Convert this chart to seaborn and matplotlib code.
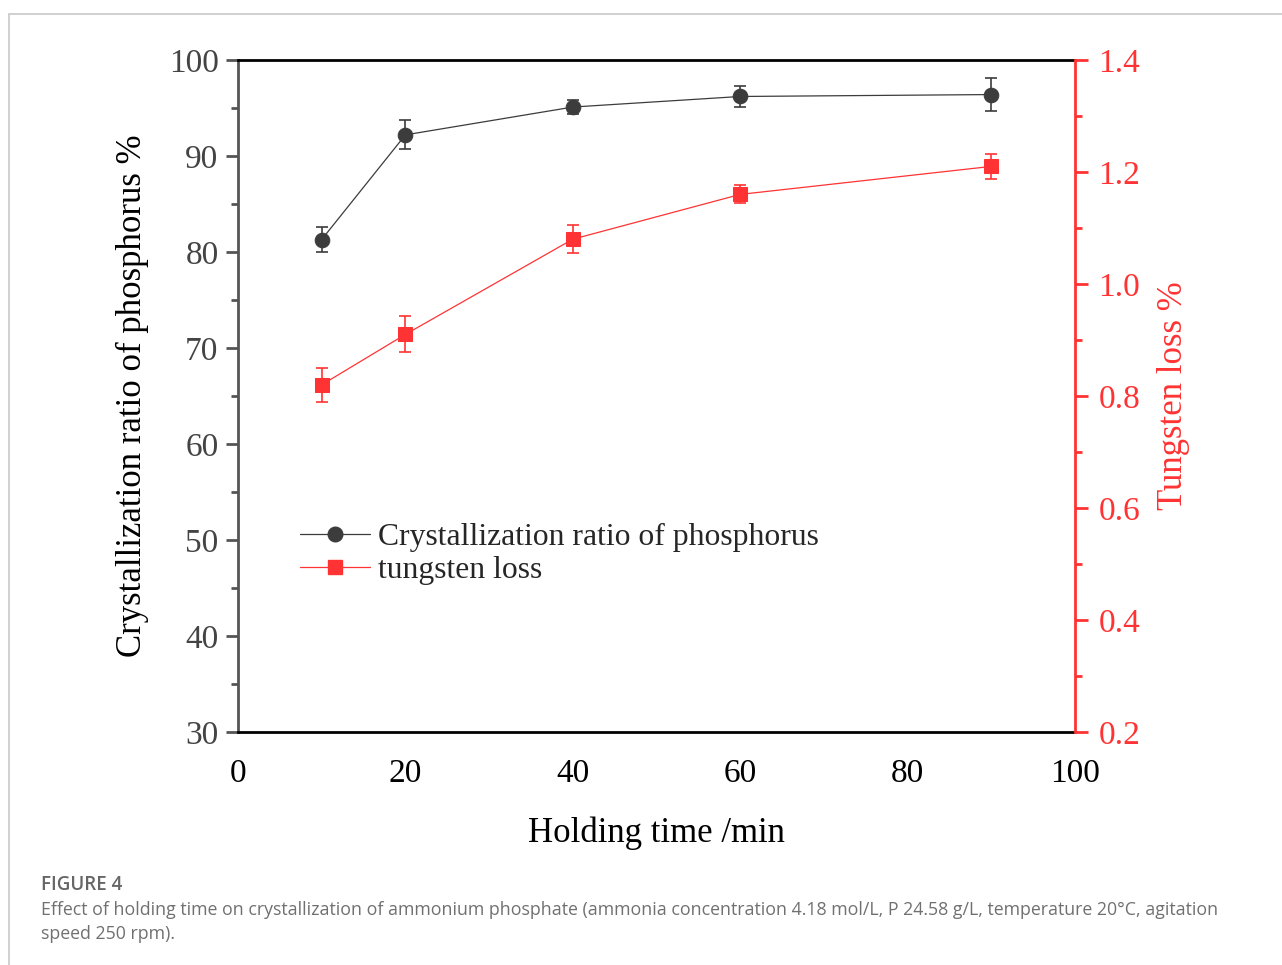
import matplotlib
matplotlib.use("Agg")
import matplotlib.pyplot as plt
import seaborn as sns
import pandas as pd
import numpy as np
from matplotlib.patches import Rectangle
from matplotlib.ticker import MultipleLocator
from matplotlib.lines import Line2D

time_min = [10, 20, 40, 60, 90]
phosphorus = [81.3, 92.2, 95.1, 96.2, 96.4]
phosphorus_err = [1.3, 1.5, 0.7, 1.05, 1.7]
tungsten = [0.82, 0.91, 1.08, 1.16, 1.21]
tungsten_err = [0.03, 0.032, 0.025, 0.016, 0.022]

sns.set_theme(style="white")
plt.rcParams['font.family'] = ['Liberation Serif', 'DejaVu Serif']

fig = plt.figure(figsize=(12.82, 9.65), dpi=100)
ax = fig.add_axes([238/1282, 1-732/965, (1075-238)/1282, (732-60)/965])
ax2 = ax.twinx()

BLACK = "#3c3c3c"
RED = "#ff3333"
GRAY = "#555555"

df = pd.DataFrame({"t": time_min, "p": phosphorus, "w": tungsten})

ax.errorbar(time_min, phosphorus, yerr=phosphorus_err, fmt="none", ecolor=BLACK, elinewidth=1.2, capsize=4.5, capthick=1.2, zorder=2)
sns.lineplot(data=df, x="t", y="p", ax=ax, color=BLACK, lw=0.9, marker="o", markersize=10.5,
             markeredgecolor=BLACK, markerfacecolor=BLACK, zorder=3)
ax2.errorbar(time_min, tungsten, yerr=tungsten_err, fmt="none", ecolor=RED, elinewidth=1.2, capsize=4.5, capthick=1.2, zorder=2)
sns.lineplot(data=df, x="t", y="w", ax=ax2, color=RED, lw=0.9, marker="s", markersize=9.5,
             markeredgecolor=RED, markerfacecolor=RED, zorder=3)

ax.set_xlim(0, 100)
ax.set_ylim(30, 100)
ax2.set_ylim(0.2, 1.4)

ax.xaxis.set_major_locator(MultipleLocator(20))
ax.xaxis.set_minor_locator(MultipleLocator(10))
ax.yaxis.set_major_locator(MultipleLocator(10))
ax.yaxis.set_minor_locator(MultipleLocator(5))
ax2.yaxis.set_major_locator(MultipleLocator(0.2))
ax2.yaxis.set_minor_locator(MultipleLocator(0.1))
ax2.yaxis.set_major_formatter(matplotlib.ticker.FormatStrFormatter("%.1f"))

for a in (ax, ax2):
    for s in a.spines.values():
        s.set_linewidth(2.0)
ax.spines["top"].set_color("black")
ax.spines["bottom"].set_color("black")
ax.spines["left"].set_color(GRAY)
ax2.spines["right"].set_color(RED)
ax2.spines["left"].set_visible(False)
ax2.spines["top"].set_visible(False)
ax2.spines["bottom"].set_visible(False)
ax.spines["right"].set_visible(False)

ax.tick_params(axis="x", which="major", direction="out", length=9, width=2, colors="black", labelsize=24, pad=10, top=False)
ax.tick_params(axis="x", which="minor", direction="out", length=5, width=2, colors="black", top=False)
ax.tick_params(axis="y", which="major", direction="out", length=9, width=2, colors=GRAY, labelsize=24, labelcolor="#444444", pad=5)
ax.tick_params(axis="y", which="minor", direction="out", length=5, width=2, colors=GRAY)
ax2.tick_params(axis="y", which="major", direction="out", length=9, width=2, colors=RED, labelsize=24, pad=8)
ax2.tick_params(axis="y", which="minor", direction="out", length=5, width=2, colors=RED)

ax.set_xlabel("Holding time /min", fontsize=25, color="black", labelpad=20)
ax.set_ylabel("Crystallization ratio of phosphorus %", fontsize=25, color="black", labelpad=14)
ax2.set_ylabel("Tungsten loss %", fontsize=25, color=RED, labelpad=12)
ax.grid(False)
ax2.grid(False)

handles = [
    Line2D([], [], color=BLACK, lw=0.9, marker="o", markersize=10.5, markerfacecolor=BLACK, markeredgecolor=BLACK),
    Line2D([], [], color=RED, lw=0.9, marker="s", markersize=9.5, markerfacecolor=RED, markeredgecolor=RED),
]
ax.legend(handles, ["Crystallization ratio of phosphorus", "tungsten loss"], loc="upper left",
          bbox_to_anchor=((300-238)/837, (732-523)/672), frameon=False, fontsize=22.8,
          handlelength=2.2, handletextpad=0.25, labelspacing=0.12, borderaxespad=0, borderpad=0)

fig.patches.append(Rectangle((9/1282, -0.1), 1.2, 1 - 14/965 + 0.1, transform=fig.transFigure,
                             fill=False, edgecolor="#c8c8c8", lw=1.2))

cap_font = ['Open Sans', 'DejaVu Sans']
fig.text(41/1282, 1-885/965, "FIGURE 4", fontsize=13.5, color="#666666", family=cap_font,
         fontweight="semibold", va="center")
fig.text(41/1282, 1-910/965,
         "Effect of holding time on crystallization of ammonium phosphate (ammonia concentration 4.18 mol/L, P 24.58 g/L, temperature 20°C, agitation",
         fontsize=12.8, color="#707070", family=cap_font, va="center")
fig.text(41/1282, 1-934/965, "speed 250 rpm).", fontsize=12.8, color="#707070", family=cap_font, va="center")

fig.savefig("out.png", dpi=100)
